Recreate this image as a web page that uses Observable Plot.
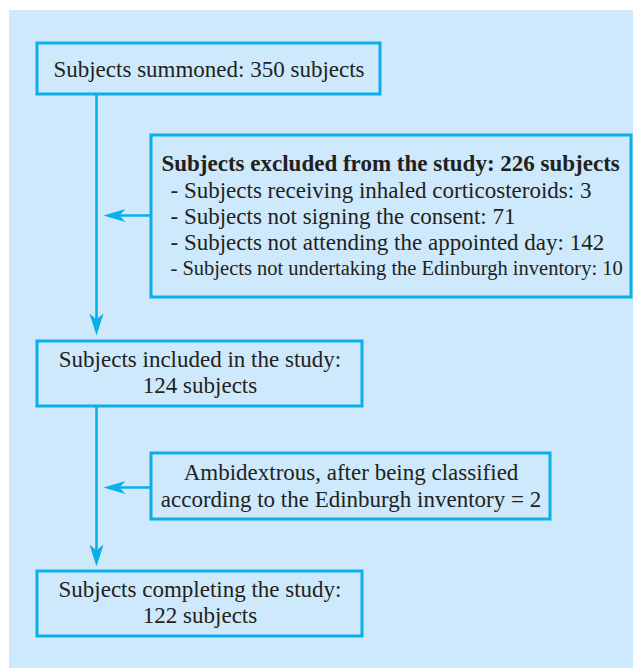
<!DOCTYPE html>
<html><head><meta charset="utf-8">
<script src="https://cdn.jsdelivr.net/npm/d3@7"></script>
<script src="https://cdn.jsdelivr.net/npm/@observablehq/plot@0.6"></script>
<style>html,body{margin:0;padding:0;background:#fff}</style>
</head><body><div id="chart"></div>
<script>
// ---- content ----
const summoned = ["Subjects summoned: 350 subjects"];
const excludedTitle = ["Subjects excluded from the study: 226 subjects"];
const excludedReasons = [
  "- Subjects receiving inhaled corticosteroids: 3",
  "- Subjects not signing the consent: 71",
  "- Subjects not attending the appointed day: 142",
  "- Subjects not undertaking the Edinburgh inventory: 10"
];
const included = ["Subjects included in the study:", "124 subjects"];
const ambidextrous = ["Ambidextrous, after being classified", "according to the Edinburgh inventory = 2"];
const completed = ["Subjects completing the study:", "122 subjects"];

// ---- layout ----
const W = 633, H = 668;
const BLUE = "#0aaee8", BG = "#cde9fb", INK = "#231f20";
const FONT = "Liberation Serif";
const FS = 23;
const FS_NARROW = 20.5;
const frame = [{x1: 9, x2: 633, y1: 10, y2: 668}];
const boxes = [
  {x1: 37, x2: 380, y1: 43, y2: 94},
  {x1: 151, x2: 631, y1: 135, y2: 297},
  {x1: 37, x2: 362, y1: 341, y2: 406},
  {x1: 151, x2: 550, y1: 453, y2: 519},
  {x1: 37, x2: 362, y1: 571, y2: 636}
];
const links = [
  {x1: 96, y1: 94, x2: 96, y2: 322},
  {x1: 96, y1: 406, x2: 96, y2: 552},
  {x1: 150, y1: 215, x2: 116, y2: 215},
  {x1: 150, y1: 487, x2: 116, y2: 487}
];
const downHeads = [{x: 96, y: 335}, {x: 96, y: 566}];
const leftHeads = [{x: 103, y: 215}, {x: 103, y: 487}];

const downSymbol = {draw(ctx) { ctx.moveTo(0, 0); ctx.lineTo(-7, -22); ctx.lineTo(0, -16); ctx.lineTo(7, -22); ctx.closePath(); }};
const leftSymbol = {draw(ctx) { ctx.moveTo(0, 0); ctx.lineTo(22, -6.5); ctx.lineTo(16, 0); ctx.lineTo(22, 6.5); ctx.closePath(); }};

const centered = [
  {x: 208.5, y: 69, text: summoned[0]},
  {x: 199.5, y: 359, text: included[0]},
  {x: 199.5, y: 385, text: included[1]},
  {x: 350.5, y: 472, text: ambidextrous[0]},
  {x: 350.5, y: 499, text: ambidextrous[1]},
  {x: 199.5, y: 589, text: completed[0]},
  {x: 199.5, y: 615, text: completed[1]}
];
const titleText = [{x: 161, y: 163, text: excludedTitle[0]}];
const reasonYs = [190, 216, 242, 268];
const reasonText = excludedReasons.slice(0, 3).map((t, i) => ({x: 170, y: reasonYs[i], text: t}));
const reasonNarrow = [{x: 170, y: reasonYs[3], text: excludedReasons[3]}];

const chart = Plot.plot({
  width: W, height: H, margin: 0,
  x: {domain: [0, W], range: [0, W], axis: null},
  y: {domain: [0, H], range: [0, H], axis: null},
  style: {background: "#fff", overflow: "visible"},
  marks: [
    Plot.rect(frame, {x1: "x1", x2: "x2", y1: "y1", y2: "y2", fill: BG}),
    Plot.link(links, {x1: "x1", y1: "y1", x2: "x2", y2: "y2", stroke: BLUE, strokeWidth: 2.6}),
    Plot.dot(downHeads, {x: "x", y: "y", symbol: downSymbol, fill: BLUE, stroke: "none", r: 5}),
    Plot.dot(leftHeads, {x: "x", y: "y", symbol: leftSymbol, fill: BLUE, stroke: "none", r: 5}),
    Plot.rect(boxes, {x1: "x1", x2: "x2", y1: "y1", y2: "y2", fill: "none", stroke: BLUE, strokeWidth: 3}),
    Plot.text(centered, {x: "x", y: "y", text: "text", textAnchor: "middle", fontSize: FS, fontFamily: FONT, fill: INK}),
    Plot.text(titleText, {x: "x", y: "y", text: "text", textAnchor: "start", fontSize: FS, fontWeight: "bold", fontFamily: FONT, fill: INK}),
    Plot.text(reasonText, {x: "x", y: "y", text: "text", textAnchor: "start", fontSize: FS, fontFamily: FONT, fill: INK}),
    Plot.text(reasonNarrow, {x: "x", y: "y", text: "text", textAnchor: "start", fontSize: FS_NARROW, fontFamily: FONT, fill: INK})
  ]
});
document.getElementById("chart").appendChild(chart);
</script>
</body></html>
